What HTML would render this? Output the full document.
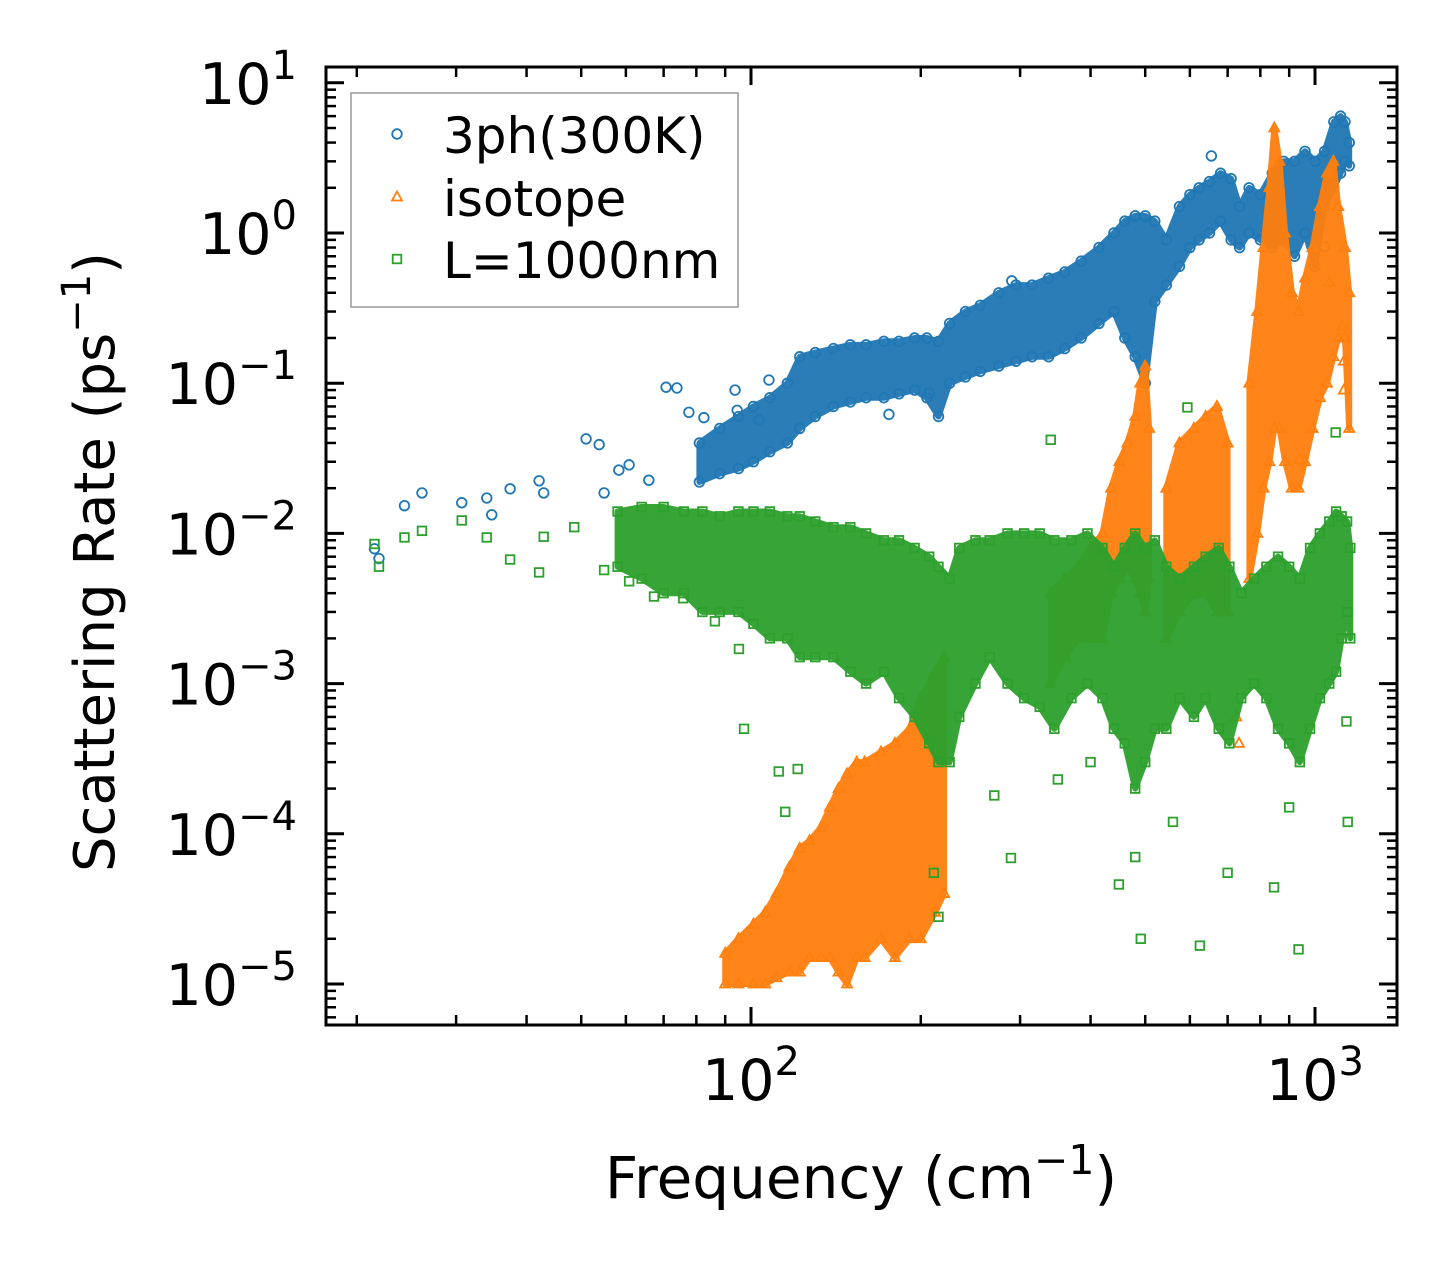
<!DOCTYPE html>
<html><head><meta charset="utf-8"><style>
html,body{margin:0;padding:0;background:#fff;}
svg{display:block;font-family:"DejaVu Sans","Liberation Sans",sans-serif;}
</style></head><body>
<svg id="chart" width="1455" height="1274" viewBox="0 0 1455 1274" xmlns="http://www.w3.org/2000/svg">
<defs><clipPath id="plotclip"><rect x="326" y="67" width="1071" height="958"/></clipPath></defs>
<rect x="0" y="0" width="1455" height="1274" fill="#fff"/>
<g id="marks" clip-path="url(#plotclip)"></g>
<g id="axes"></g>
</svg>
<script>
// ---- data ----
const xTickValues = [100, 1000];
const xTickExps = ["2", "3"];
const yTickValues = [10, 1, 0.1, 0.01, 0.001, 0.0001, 0.00001];
const yTickExps = ["1", "0", "\u22121", "\u22122", "\u22123", "\u22124", "\u22125"];
const seriesNames = ["3ph(300K)", "isotope", "L=1000nm"];

// dense clouds: [frequency, low rate, high rate]
const blueBand = [[81,0.022,0.04],[88,0.025,0.05],[95,0.027,0.06],[101,0.03,0.07],[108,0.035,0.08],[116,0.04,0.1],[122,0.05,0.15],[130,0.06,0.16],[140,0.07,0.17],[150,0.075,0.18],[160,0.08,0.18],[172,0.08,0.19],[183,0.085,0.19],[195,0.09,0.2],[205,0.08,0.2],[215,0.06,0.19],[225,0.1,0.25],[240,0.11,0.3],[255,0.12,0.33],[275,0.13,0.4],[295,0.14,0.45],[315,0.15,0.45],[337,0.15,0.5],[360,0.17,0.55],[385,0.2,0.65],[414,0.25,0.8],[440,0.3,1.0],[460,0.2,1.2],[480,0.15,1.3],[500,0.1,1.3],[520,0.35,1.2],[545,0.45,0.9],[575,0.6,1.5],[600,0.8,1.8],[623,0.9,2.0],[650,1.0,2.2],[680,1.2,2.5],[710,0.9,2.3],[735,0.8,1.5],[764,1.0,2.0],[800,0.9,1.8],[840,0.8,2.5],[880,0.9,3.0],[920,0.7,3.0],[960,1.0,3.5],[1000,0.6,3.0],[1040,1.5,3.5],[1080,2.0,5.5],[1110,2.5,6],[1130,3,5.5],[1150,2.8,4]];
const blueScatter = [[21.5,0.0079],[21.9,0.0068],[24.3,0.0153],[26.1,0.0186],[30.7,0.016],[34.0,0.0172],[34.7,0.0133],[37.4,0.0198],[42.1,0.0224],[42.9,0.0186],[51,0.0426],[53.8,0.039],[54.9,0.0186],[60.8,0.0286],[58.3,0.0264],[65.9,0.0226],[70.7,0.094],[73.9,0.093],[77.6,0.064],[82.5,0.059],[93.7,0.09],[94.5,0.066],[107.6,0.105],[103.3,0.057],[175.6,0.062],[206.8,0.086],[290,0.48],[655,3.26],[1040,0.81]];

const orangeBandA = [[90,1e-5,1.6e-5],[95,1e-5,2e-5],[101,1e-5,2.5e-5],[106,1e-5,3e-5],[111,1.1e-5,4e-5],[117,1.2e-5,6e-5],[122,1.2e-5,8e-5],[127,1.5e-5,9e-5],[133,1.5e-5,1.1e-4],[138,1.5e-5,1.5e-4],[143,1.2e-5,2e-4],[148,1e-5,2.5e-4],[154,1.5e-5,3e-4],[159,1.5e-5,3e-4],[170,2e-5,3.5e-4],[180,1.5e-5,4e-4],[191,2e-5,5e-4],[200,2e-5,8e-4],[212,3e-5,1.2e-3],[220,4e-5,1.5e-3]];
const orangeBandB = [[340,1e-3,4e-3],[360,1.5e-3,5e-3],[380,2e-3,6e-3],[400,2e-3,8e-3],[420,2e-3,1e-2],[435,4e-3,2e-2],[450,5e-3,3e-2],[465,6e-3,4e-2],[480,5e-3,6e-2],[490,4e-3,0.1],[500,3e-3,0.13],[508,5e-3,0.05]];
const orangeBandC = [[545,2e-3,0.02],[575,3e-3,0.04],[610,4e-3,0.05],[640,4e-3,0.06],[670,3e-3,0.07],[700,3e-3,0.04]];
const orangeBandD = [[765,5e-3,0.1],[790,0.01,0.3],[810,0.02,0.8],[830,0.03,2],[847,0.05,5],[865,0.05,3],[885,0.03,1],[910,0.02,0.4],[935,0.02,0.3],[960,0.03,0.5],[990,0.05,0.8],[1020,0.08,1.5],[1050,0.1,2.5],[1078,0.15,3],[1100,0.2,1.5],[1130,0.2,0.8],[1150,0.05,0.4]];
const orangeScatter = [[1060,0.47],[1118,0.24],[1125,0.14],[1125,0.09],[733,4e-4],[938,0.031],[725,6e-4]];

const greenBand = [[58,0.006,0.014],[64,0.005,0.015],[70,0.004,0.015],[76,0.004,0.014],[82,0.003,0.014],[88,0.003,0.013],[95,0.003,0.014],[101,0.0025,0.014],[108,0.002,0.014],[116,0.002,0.013],[122,0.0015,0.013],[130,0.0015,0.012],[140,0.0015,0.011],[150,0.0012,0.011],[160,0.001,0.01],[172,0.0012,0.009],[183,0.0008,0.009],[195,0.0006,0.008],[207,0.0004,0.007],[215,0.0003,0.006],[225,0.0003,0.005],[234,0.0006,0.008],[250,0.001,0.009],[265,0.0015,0.009],[285,0.001,0.01],[305,0.0008,0.01],[325,0.0007,0.01],[345,0.0005,0.009],[370,0.0008,0.009],[395,0.001,0.01],[420,0.0008,0.008],[440,0.0005,0.006],[460,0.0004,0.008],[480,0.0002,0.01],[500,0.0003,0.008],[520,0.0005,0.009],[545,0.0005,0.006],[575,0.0008,0.005],[610,0.0006,0.006],[640,0.0008,0.007],[675,0.0005,0.008],[705,0.0004,0.006],[740,0.0008,0.004],[780,0.001,0.005],[820,0.0008,0.006],[860,0.0005,0.007],[900,0.0004,0.006],[940,0.0003,0.005],[980,0.0005,0.008],[1020,0.0008,0.01],[1060,0.001,0.012],[1090,0.0012,0.014],[1115,0.002,0.013],[1140,0.003,0.012],[1155,0.002,0.008]];
const greenScatter = [[21.5,0.0085],[21.9,0.006],[24.3,0.0094],[26.1,0.0104],[30.7,0.0122],[34,0.0094],[37.4,0.0067],[42.1,0.0055],[42.9,0.0095],[48.6,0.011],[54.9,0.0057],[60.8,0.0048],[67.3,0.0038],[75.8,0.0037],[86.3,0.0026],[95.2,0.0017],[97.2,0.0005],[112,0.00026],[115,0.00014],[121,0.00027],[340,0.042],[594,0.069],[1088,0.047],[491,2e-5],[625,1.8e-5],[935,1.7e-5],[289,6.9e-5],[449,4.6e-5],[700,5.5e-5],[846,4.4e-5],[1143,1.2e-4],[1137,0.00056],[215,2.8e-5],[211,5.5e-5],[480,7e-5],[350,2.3e-4],[560,1.2e-4],[900,1.5e-4],[270,1.8e-4],[400,3e-4]];

// ---- scales ----
const X0 = 751, XDEC = 564;
const Y0 = 233, YDEC = 150.2;
function sx(f){ return X0 + (Math.log10(f) - 2) * XDEC; }
function sy(v){ return Y0 - Math.log10(v) * YDEC; }

const NS = "http://www.w3.org/2000/svg";
const marks = document.getElementById('marks');
const axes = document.getElementById('axes');
function mk(tag, attrs, parent){
  const e = document.createElementNS(NS, tag);
  for (const k in attrs) e.setAttribute(k, attrs[k]);
  parent.appendChild(e);
  return e;
}
const colors = ["#1f77b4", "#ff7f0e", "#2ca02c"];

function marker(kind, x, y, color, parent){
  let e;
  if (kind === 0) e = mk('circle', {cx:x, cy:y, r:4.8, fill:'none', stroke:color, 'stroke-width':1.8}, parent);
  else if (kind === 1) e = mk('path', {d:`M${x},${y-5.5} L${x+5},${y+3.5} L${x-5},${y+3.5} Z`, fill:'none', stroke:color, 'stroke-width':1.8}, parent);
  else e = mk('rect', {x:x-4.3, y:y-4.3, width:8.6, height:8.6, fill:'none', stroke:color, 'stroke-width':1.8}, parent);
  return e;
}

function drawBand(band, kind, name, parent){
  const g = mk('g', {}, parent);
  
  
  let d = '';
  band.forEach((p,i)=>{ d += (i? 'L':'M') + sx(p[0]).toFixed(1) + ',' + sy(p[2]).toFixed(1); });
  for (let i = band.length-1; i >= 0; i--) d += 'L' + sx(band[i][0]).toFixed(1) + ',' + sy(band[i][1]).toFixed(1);
  d += 'Z';
  const poly = mk('path', {d:d, fill:colors[kind], stroke:colors[kind], 'stroke-width':6, 'stroke-linejoin':'round', opacity:0.95}, g);
  
  
  band.forEach(p=>{
    const a = marker(kind, sx(p[0]), sy(p[1]), colors[kind], g);
    
    
    const b = marker(kind, sx(p[0]), sy(p[2]), colors[kind], g);
    
    
  });
}
function drawScatter(pts, kind, name, parent){
  const g = mk('g', {}, parent);
  
  
  pts.forEach(p=>{
    const m = marker(kind, sx(p[0]), sy(p[1]), colors[kind], g);
    
    
  });
}

drawBand(blueBand, 0, 'series-3ph-cloud', marks);
drawScatter(blueScatter, 0, 'series-3ph-scatter', marks);
drawBand(orangeBandA, 1, 'series-isotope-cloud-a', marks);
drawBand(orangeBandB, 1, 'series-isotope-cloud-b', marks);
drawBand(orangeBandC, 1, 'series-isotope-cloud-c', marks);
drawBand(orangeBandD, 1, 'series-isotope-cloud-d', marks);
drawScatter(orangeScatter, 1, 'series-isotope-scatter', marks);
drawBand(greenBand, 2, 'series-boundary-cloud', marks);
drawScatter(greenScatter, 2, 'series-boundary-scatter', marks);

// ---- axes ----
const L = 326, R = 1397, T = 67, B = 1025;
const frame = mk('rect', {x:L, y:T, width:R-L, height:B-T, fill:'none', stroke:'#000', 'stroke-width':3}, axes);



for (let dec = 1; dec <= 3; dec++){
  for (let m = 1; m <= 9; m++){
    const f = m * Math.pow(10, dec);
    const x = sx(f);
    if (x < L+1 || x > R-1) continue;
    const len = m === 1 ? 18 : 10;
    const w = m === 1 ? 3 : 2.5;
    const t1 = mk('line', {x1:x, y1:B, x2:x, y2:B-len, stroke:'#000', 'stroke-width':w}, axes);
    
    
    const t2 = mk('line', {x1:x, y1:T, x2:x, y2:T+len, stroke:'#000', 'stroke-width':w}, axes);
    
    
  }
}
for (let dec = -6; dec <= 1; dec++){
  for (let m = 1; m <= 9; m++){
    const v = m * Math.pow(10, dec);
    const y = sy(v);
    if (y < T+1 || y > B-1) continue;
    const len = m === 1 ? 18 : 10;
    const w = m === 1 ? 3 : 2.5;
    const t1 = mk('line', {x1:L, y1:y, x2:L+len, y2:y, stroke:'#000', 'stroke-width':w}, axes);
    
    
    const t2 = mk('line', {x1:R, y1:y, x2:R-len, y2:y, stroke:'#000', 'stroke-width':w}, axes);
    
    
  }
}
function powLabel(x, y, exp, anchor, name){
  const t = mk('text', {x:x, y:y, 'font-size':57, 'text-anchor':anchor, fill:'#000'}, axes);
  
  
  const a = mk('tspan', {}, t); a.textContent = '10';
  const b = mk('tspan', {dy:-25, 'font-size':40}, t); b.textContent = exp;
  return t;
}
xTickValues.forEach((v,i)=>{ powLabel(sx(v), 1100, xTickExps[i], 'middle', 'x-tick-label'); });
yTickValues.forEach((v,i)=>{ powLabel(297, sy(v)+21, yTickExps[i], 'end', 'y-tick-label'); });

const xt = mk('text', {x:861, y:1198, 'font-size':58, 'text-anchor':'middle', fill:'#000'}, axes);


mk('tspan', {}, xt).textContent = 'Frequency (cm';
mk('tspan', {dy:-24, 'font-size':41}, xt).textContent = '\u22121';
mk('tspan', {dy:24}, xt).textContent = ')';
const yt = mk('text', {x:0, y:0, 'font-size':56, 'text-anchor':'middle', fill:'#000', transform:'translate(114,562) rotate(-90)'}, axes);


mk('tspan', {}, yt).textContent = 'Scattering Rate (ps';
mk('tspan', {dy:-24, 'font-size':40}, yt).textContent = '\u22121';
mk('tspan', {dy:24}, yt).textContent = ')';

const lg = mk('g', {}, axes);


mk('rect', {x:351, y:93, width:387, height:214, fill:'#fff', 'fill-opacity':0.8, stroke:'#999', 'stroke-width':1.5}, lg);
const rowsY = [134, 197, 259];
seriesNames.forEach((n,i)=>{
  const g = mk('g', {}, lg);
  
  
  marker(i, 397, rowsY[i], colors[i], g);
  const t = mk('text', {x:443, y:rowsY[i]+19, 'font-size':50, fill:'#000'}, g);
  t.textContent = n;
});
</script>
</body></html>
